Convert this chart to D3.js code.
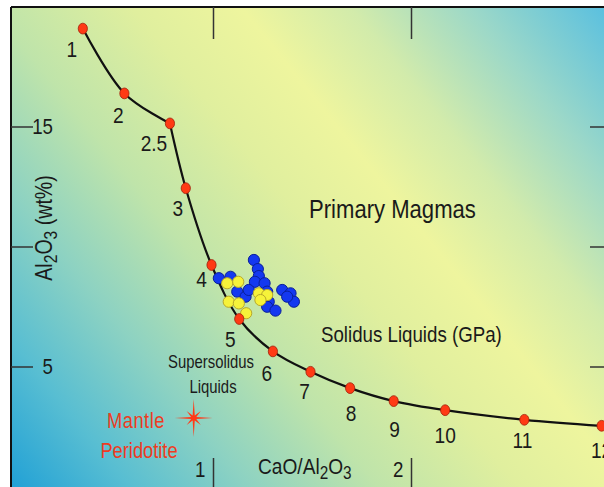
<!DOCTYPE html>
<html>
<head>
<meta charset="utf-8">
<script src="https://cdn.jsdelivr.net/npm/d3@7"></script>
<style>
  body { margin: 0; background: #fff; }
  text { font-family: "Liberation Sans", Arial, Helvetica, sans-serif; fill: #1a1a1a; }
</style>
</head>
<body>
<svg id="chart" width="604" height="487"></svg>
<script>
// solidus liquids, pressure in GPa
const pressures = ["1","2","2.5","3","4","5","6","7","8","9","10","11","12"]
const solidusRatio = [0.34,0.55,0.78,0.86,0.99,1.13,1.30,1.49,1.69,1.91,2.17,2.57,2.96]
const solidusAl = [19.1,16.4,15.15,12.45,9.25,7.0,5.65,4.8,4.12,3.58,3.2,2.8,2.55]

// primary magmas (blue and yellow groups)
const blueRatio = [1.204,1.224,1.229,1.209,1.258,1.271,1.279,1.271,1.313,1.027,1.086,1.12,1.162,1.347,1.389,1.406,1.372,1.178]
const blueAl = [9.46,9.08,8.79,8.55,8.49,8.14,7.72,7.51,7.35,8.70,8.76,8.14,7.93,8.21,8.07,7.72,7.93,8.21]
const yellowRatio = [1.069,1.125,1.077,1.128,1.165,1.229,1.271,1.237]
const yellowAl = [8.49,8.55,7.72,7.65,7.24,8.07,8.0,7.79]

// mantle peridotite
const mantleRatio = 0.9
const mantleAl = 2.875

const xTicks = [1,2]
const yTicks = [5,10,15]
const yTickLabels = {5:"5", 10:"", 15:"15"}

// label offsets for pressure numbers (px)
const labelDx = [-11,-6,-16,-8,-10,-9,-6,-6,1,1,0,-2,0]
const labelDy = [28,30,28,28,22,28,30,27,33,36,33,28,32]
// the curve has a corner at 2.5 GPa
const kink = 2

const W = 604, H = 487
const plotLeft = 11, plotTop = 7
const narrow = 0.85   // fake a condensed face

const svg = d3.select("#chart")

const x = d3.scaleLinear().domain([1,2]).range([213.5,411.5])
const y = d3.scaleLinear().domain([0,20]).range([487,7])

function at(px, py, extra){
  return "translate(" + px + "," + py + ")" + (extra || "") + " scale(" + narrow + ",1)"
}

// background gradient
const grad = svg.append("defs").append("linearGradient")
  .attr("id","bg")
  .attr("gradientUnits","userSpaceOnUse")
  .attr("x1",0).attr("y1",H).attr("x2",W).attr("y2",0)
const stops = [[0,"#1c9ed6"],[0.13,"#58bed2"],[0.25,"#8dd2c2"],[0.38,"#bfe4aa"],
  [0.52,"#e0ef9e"],[0.63,"#eef59e"],[0.74,"#d2ebab"],[0.86,"#9cd8c8"],[1,"#58bfe0"]]
grad.selectAll("stop").data(stops).enter().append("stop")
  .attr("offset",d => d[0]).attr("stop-color",d => d[1])

svg.append("rect")
  .attr("x",plotLeft).attr("y",plotTop).attr("width",W-plotLeft).attr("height",H-plotTop)
  .attr("fill","url(#bg)")

// frame
svg.append("line").attr("x1",plotLeft).attr("x2",W).attr("y1",plotTop).attr("y2",plotTop)
  .attr("stroke","#111").attr("stroke-width",2)
svg.append("line").attr("x1",plotLeft).attr("x2",plotLeft).attr("y1",plotTop).attr("y2",H)
  .attr("stroke","#111").attr("stroke-width",2)

// ticks
const ticks = svg.append("g").attr("stroke","#333").attr("stroke-width",1.5)
yTicks.forEach(function(v){
  ticks.append("line").attr("x1",plotLeft).attr("x2",33).attr("y1",y(v)).attr("y2",y(v))
  ticks.append("line").attr("x1",590).attr("x2",W).attr("y1",y(v)).attr("y2",y(v))
})
xTicks.forEach(function(v){
  ticks.append("line").attr("x1",x(v)).attr("x2",x(v)).attr("y1",plotTop).attr("y2",39)
  ticks.append("line").attr("x1",x(v)).attr("x2",x(v)).attr("y1",458).attr("y2",H)
})

svg.selectAll(".ylab").data(yTicks).enter().append("text")
  .attr("class","ylab")
  .attr("transform",v => at(53, y(v)+7))
  .attr("text-anchor","end")
  .style("font-size","22px")
  .text(v => yTickLabels[v])

svg.selectAll(".xlab").data(xTicks).enter().append("text")
  .attr("class","xlab")
  .attr("transform",v => at(x(v)-8, 477))
  .attr("text-anchor","end")
  .style("font-size","22px")
  .text(v => v)

// axis titles
const xt = svg.append("text").attr("transform",at(258,474)).style("font-size","22.5px")
xt.append("tspan").text("CaO/Al")
xt.append("tspan").attr("dy",5).style("font-size","18px").text("2")
xt.append("tspan").attr("dy",-5).text("O")
xt.append("tspan").attr("dy",5).style("font-size","18px").text("3")

const yt = svg.append("text").attr("transform",at(52,228," rotate(-90)"))
  .attr("text-anchor","middle").style("font-size","23px")
yt.append("tspan").text("Al")
yt.append("tspan").attr("dy",5).style("font-size","18.5px").text("2")
yt.append("tspan").attr("dy",-5).text("O")
yt.append("tspan").attr("dy",5).style("font-size","18.5px").text("3")
yt.append("tspan").attr("dy",-5).text(" (wt%)")

// solidus curve, drawn in two smooth pieces
const solidus = solidusRatio.map((r,i) => ({r:r, al:solidusAl[i], p:pressures[i], i:i}))
const line = d3.line().x(d => x(d.r)).y(d => y(d.al)).curve(d3.curveCatmullRom.alpha(0.5))
;[solidus.slice(0,kink+1), solidus.slice(kink)].forEach(function(part){
  svg.append("path").datum(part)
    .attr("d",line).attr("fill","none").attr("stroke","#111")
    .attr("stroke-width",2.2).attr("stroke-linejoin","round")
})

// magma clusters
function drawDots(rs, als, fill, stroke){
  svg.append("g").selectAll("circle")
    .data(rs.map((r,i) => [r, als[i]])).enter()
    .append("circle")
    .attr("cx",d => x(d[0])).attr("cy",d => y(d[1])).attr("r",5.6)
    .attr("fill",fill).attr("stroke",stroke).attr("stroke-width",1)
}
drawDots(blueRatio, blueAl, "#1438f0", "#0a1f9a")
drawDots(yellowRatio, yellowAl, "#f6f23a", "#b8a82a")

// red pressure points
svg.append("g").selectAll("ellipse").data(solidus).enter()
  .append("ellipse")
  .attr("cx",d => x(d.r)).attr("cy",d => y(d.al)).attr("rx",4.6).attr("ry",5.4)
  .attr("fill","#ff3a14").attr("stroke","#a0200a").attr("stroke-width",0.8)

svg.append("g").selectAll("text").data(solidus).enter()
  .append("text")
  .attr("transform",d => at(x(d.r)+labelDx[d.i], y(d.al)+labelDy[d.i]))
  .attr("text-anchor","middle")
  .style("font-size","22.5px")
  .text(d => d.p)

// region labels
svg.append("text").attr("transform",at(309,218)).style("font-size","26px").text("Primary Magmas")
svg.append("text").attr("transform",at(321,342)).style("font-size","22px").text("Solidus Liquids (GPa)")
svg.append("text").attr("transform",at(211,368)).attr("text-anchor","middle").style("font-size","17.5px").text("Supersolidus")
svg.append("text").attr("transform",at(213,393)).attr("text-anchor","middle").style("font-size","17.5px").text("Liquids")

// mantle peridotite star
const starPts = d3.range(16).map(function(k){
  const a = k*Math.PI/8
  const r = (k%2) ? 2.8 : ((k/2)%2 ? 10 : 19)
  return [a, r]
})
svg.append("path")
  .attr("transform","translate("+x(mantleRatio)+","+y(mantleAl)+")")
  .attr("d", d3.lineRadial().angle(d => d[0]).radius(d => d[1]).curve(d3.curveLinearClosed)(starPts))
  .attr("fill","#ff3a18")

svg.append("text").attr("transform",at(136,428)).attr("text-anchor","middle")
  .style("font-size","21.5px").style("letter-spacing","0.6px").style("fill","#ee3b22").text("Mantle")
svg.append("text").attr("transform",at(139,458)).attr("text-anchor","middle")
  .style("font-size","21.5px").style("fill","#ee3b22").text("Peridotite")
</script>
</body>
</html>
